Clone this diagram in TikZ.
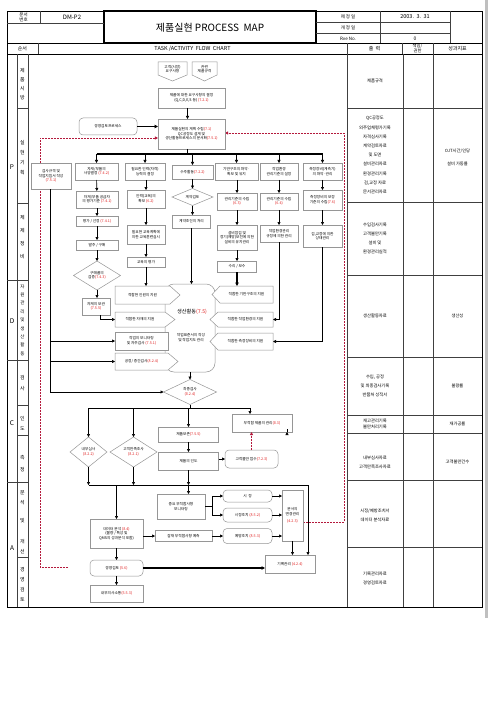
\documentclass[tikz,border=0pt]{standalone}
\usepackage{fontspec}
\setmainfont{Noto Sans CJK KR}
\usetikzlibrary{arrows.meta,calc,shapes.geometric}
\definecolor{bxc}{RGB}{150,150,150}
\definecolor{clc}{RGB}{225,35,35}
\definecolor{rdc}{RGB}{180,25,60}
\newcommand{\cl}[1]{\textcolor{clc}{#1}}
\newcommand{\fs}{\fontsize{3.7}{4.5}\selectfont}
\begin{document}
\begin{tikzpicture}[x=1pt,y=-1pt,
  every node/.style={inner sep=0pt,outer sep=0pt,align=center,font=\fs},
  fb/.style={draw=bxc,fill=white,line width=0.5pt},
  rb/.style={fb,rounded corners=4pt},
  dm/.style={diamond,fb},
  ar/.style={-{Triangle[length=3pt,width=3pt]},line width=0.6pt},
  tar/.style={-{Triangle[length=3.5pt,width=3.5pt]},line width=1.3pt},
  bus/.style={line width=1.3pt},
  rda/.style={draw=rdc,dash pattern=on 2pt off 1pt,line width=0.9pt,-{Triangle[length=3.2pt,width=3.2pt]}},
  ln/.style={line width=0.5pt,draw=black!75},
  lbl/.style={font=\fontsize{5}{9}\selectfont},
  outt/.style={font=\fontsize{4.3}{9}\selectfont},
]
\useasboundingbox (0,0) rectangle (488,714);
\fill[white] (0,0) rectangle (488,714);
\fill[black!25] (485,0) rectangle (488,618);
% ---------- frame and header ----------
\draw[line width=0.8pt] (7,11) rectangle (482,607);
\draw[line width=1.2pt] (104,11) rectangle (316,43);
\draw[ln] (7,23) -- (104,23); \draw[ln] (40,11) -- (40,23);
\draw[ln] (316,22) -- (450,22); \draw[ln] (316,33) -- (450,33);
\draw[ln] (380,11) -- (380,43); \draw[ln] (450,11) -- (450,43);
\draw[line width=0.8pt] (7,43) -- (482,43);
\draw[ln] (38,43) -- (38,54); \draw[ln] (347,43) -- (347,54);
\draw[ln] (402,43) -- (402,54); \draw[ln] (433,43) -- (433,54);
\draw[line width=0.8pt] (7,54) -- (482,54);
\node[font=\fontsize{4.5}{5}\selectfont] (hnum) at (23.5,17) {문서\\번호};
\node[font=\fontsize{6}{7}\selectfont] (hdm) at (72,17) {DM-P2};
\node[font=\fontsize{10}{11}\selectfont] (htitle) at (210,27.5) {제품실현 PROCESS\ \ MAP};
\node[font=\fontsize{4.5}{5}\selectfont] (hd1) at (348,16.5) {제\ 정\ 일};
\node[font=\fontsize{4.5}{5}\selectfont] (hd2) at (348,27.5) {개\ 정\ 일};
\node[font=\fontsize{4.5}{5}\selectfont] (hd3) at (348,38.5) {Rve No.};
\node[font=\fontsize{5.5}{6}\selectfont] (hdate) at (415,16.5) {2003.\ \ 3.\ \ 31};
\node[font=\fontsize{5}{6}\selectfont] (hrev) at (415,39) {0};
\node[font=\fontsize{5}{6}\selectfont] (hseq) at (22.5,48.5) {순서};
\node[font=\fontsize{5.5}{6}\selectfont] (htask) at (192.5,48.5) {TASK /ACTIVITY\ \ FLOW\ \ CHART};
\node[font=\fontsize{5}{6}\selectfont] (hout) at (374.5,48.5) {출\ \ 력};
\node[font=\fontsize{4.3}{4.6}\selectfont] (hresp) at (417.5,48.5) {책임/\\권한};
\node[font=\fontsize{5}{6}\selectfont] (hkpi) at (457.5,48.5) {성과지표};
% ---------- body grid ----------
\draw[ln] (17,54) -- (17,607); \draw[ln] (28,54) -- (28,607);
\draw[ln] (347,54) -- (347,607); \draw[ln] (403,54) -- (403,607); \draw[ln] (433,54) -- (433,607);
\foreach \yy in {108,203,405,435,557} \draw[ln] (17,\yy) -- (28,\yy);
\foreach \yy in {280,360,482} \draw[ln] (7,\yy) -- (28,\yy);
\foreach \yy in {108,202,275,357,415,433,480,547} \draw[ln] (347,\yy) -- (482,\yy);
% PDCA
\node[font=\fontsize{6.5}{7}\selectfont] (pP) at (12,167) {P};
\node[font=\fontsize{6.5}{7}\selectfont] (pD) at (12,321) {D};
\node[font=\fontsize{6.5}{7}\selectfont] (pC) at (12,423) {C};
\node[font=\fontsize{6.5}{7}\selectfont] (pA) at (12,548) {A};
\node[lbl] (v1) at (22.5,84) {제\\품\\시\\방};
\node[lbl,font=\fontsize{5}{10}\selectfont] (v2) at (22.5,158) {실\\현\\기\\획};
\node[lbl,font=\fontsize{5}{13}\selectfont] (v3) at (22.5,237) {체\\제\\정\\비};
\node[lbl,font=\fontsize{4.5}{8.4}\selectfont] (v4) at (22.5,320) {자\\원\\관\\리\\및\\생\\산\\활\\동};
\node[lbl,font=\fontsize{5}{11}\selectfont] (v5) at (22.5,383) {검\\사};
\node[lbl,font=\fontsize{5}{10}\selectfont] (v6) at (22.5,423) {인\\도};
\node[lbl,font=\fontsize{5}{12}\selectfont] (v7) at (22.5,464) {측\\정};
\node[lbl,font=\fontsize{5}{10}\selectfont] (v8) at (22.5,498) {분\\석};
\node[lbl] (v9) at (22.5,521) {및};
\node[lbl,font=\fontsize{5}{10}\selectfont] (v10) at (22.5,547) {개\\선};
\node[lbl,font=\fontsize{5}{10}\selectfont] (v11) at (22.5,584) {경\\영\\검\\토};
% outputs
\node[outt] (o1) at (375,81) {제품규격};
\node[outt,font=\fontsize{4.3}{9.2}\selectfont] (o2) at (375,155) {QC공정도\\외주업체평가기록\\자격심사기록\\계약검토자료\\및 도면\\설비관리자료\\환경관리기록\\검,교정 자료\\문서관리자료};
\node[outt] (k2) at (457.5,157) {OJT시간/인당\\[4pt]설비 가동률};
\node[outt] (o3) at (375,238.5) {수입검사기록\\고객불만기록\\설비 및\\환경관리실적};
\node[outt] (o4) at (375,316) {생산활동자료};
\node[outt] (k4) at (457.5,316) {생산성};
\node[outt] (o5) at (375,385.5) {수입, 공정\\및 최종검사기록\\반품처 성적서};
\node[outt] (k5) at (457.5,385.5) {불량률};
\node[outt,font=\fontsize{4.3}{6}\selectfont] (o6) at (375,424) {재고관리기록\\불만처리기록};
\node[outt] (k6) at (457.5,424) {재가공률};
\node[outt] (o7) at (375,462) {내부심사자료\\고객만족조사자료};
\node[outt] (k7) at (457.5,462) {고객불만건수};
\node[outt] (o8) at (375,515) {시정/예방조치서\\데이터 분석자료};
\node[outt] (o9) at (375,578) {기록관리자료\\경영검토자료};
% ---------- red feedback lines (drawn first, boxes cover them) ----------
\coordinate (rl) at (68,567);
\coordinate (rlc) at (40,567);
\coordinate (planWin) at (158,138);
\coordinate (docout) at (303,522);
\coordinate (rrc) at (344,133);
\coordinate (planEin) at (225,133);
\draw[rda] (rl) -- (rlc) |- (planWin);
\draw[rda] (docout) -| (rrc) -- (planEin);
% ---------- flow: top ----------
\draw[fb] (158,62) -- (187,62) -- (187,75) -- (172.5,81) -- (158,75) -- cycle;
\node (cust) at (172.5,69) {고객(시장)\\요구사항};
\draw[fb] (192,62) -- (217,62) -- (217,75) -- (204.5,81) -- (192,75) -- cycle;
\node (spec) at (204.5,69) {관련\\제품규격};
\node[fb,minimum width=67,minimum height=20] (req) at (191.5,98) {제품에 대한 요구사항의 결정\\(Q,C,D,E,S 등) \cl{(7.2.1)}};
\node[fb,minimum width=67,minimum height=30] (plan) at (191.5,134) {제품실현의 계획 수립\cl{(7.1)}\\QC공정도 설계 및\\생산활동프로세스의 문서화\cl{(7.5.1)}};
\node[rb,minimum width=58,minimum height=17] (mgmt) at (108,126.5) {경영검토프로세스};
\draw[ar] ($(req.south)+(-4,0)$) -- ($(plan.north)+(-4,0)$);
\draw[tar] (mgmt.east) -- (mgmt.east -| plan.west);
\coordinate (bustop) at (0,154);
\draw[bus] ($(plan.south)+(-4,0)$) -- ($(plan.south)+(-4,5)$);
\draw[bus] (96.5,154) -- (322.5,154);
% row 1
\node[fb,minimum width=40,minimum height=26] (lsp) at (51,176) {검사규격 및\\작업지침서 작성\\\cl{(7.5.1)}};
\node[fb,minimum width=43,minimum height=17] (r1a) at (96.5,171.5) {자재/부품의\\사양결정 \cl{(7.4.2)}};
\node[fb,minimum width=40,minimum height=17] (r1b) at (145,171.5) {필요한 인력(자격)\\능력의 결정};
\node[fb,minimum width=41,minimum height=14] (r1c) at (192.5,172) {수주활동\cl{(7.2.2)}};
\node[fb,minimum width=43,minimum height=17] (r1d) at (236.5,171.5) {기반구조의 파악·\\확보 및 유지};
\node[fb,minimum width=38,minimum height=17] (r1e) at (279,171.5) {작업환경\\관리기준의 설정};
\node[fb,minimum width=39,minimum height=17] (r1f) at (322.5,171.5) {측정장비(계측기)\\의 파악·관리};
\foreach \n in {r1a,r1b,r1c,r1d,r1e,r1f} \draw[ar] (\n.north |- bustop) -- (\n.north);
% column a
\node[fb,minimum width=42,minimum height=17] (c1b) at (97,199.5) {자재/부품 공급자\\의 평가기준 \cl{(7.4.1)}};
\node[fb,minimum width=42,minimum height=10] (c1c) at (97,221) {평가 / 선정 \cl{(7.4.1)}};
\node[fb,minimum width=42,minimum height=10] (c1d) at (97,245) {발주 / 구매};
\node[dm,minimum width=47,minimum height=29] (c1e) at (97,275.5) {};
\node (c1et) at (97,275.5) {구매품의\\검증\cl{(7.4.3)}};
\node[fb,minimum width=28,minimum height=17] (c1f) at (96,306.5) {자재의 보관\\\cl{(7.5.5)}};
\draw[ar] (r1a) -- (c1b); \draw[ar] (c1b) -- (c1c); \draw[ar] (c1c) -- (c1d);
\draw[ar] (c1d.south) -- (c1e.north); \draw[ar] (c1e.south) -- (c1e.south |- c1f.north);
% column b
\node[fb,minimum width=38,minimum height=18] (c2b) at (146,199) {인력(교육)의\\확보 \cl{(6.2)}};
\node[fb,minimum width=38,minimum height=19] (c2c) at (146,234.5) {필요한 교육계획에\\의한 교육훈련실시};
\node[fb,minimum width=38,minimum height=10] (c2d) at (146,262) {교육의 평가};
\draw[ar] (r1b.south -| c2b) -- (c2b.north); \draw[ar] (c2b) -- (c2c); \draw[ar] (c2c) -- (c2d);
% column c
\node[dm,minimum width=41,minimum height=17] (c3b) at (192.5,197) {};
\node (c3bt) at (192.5,197) {계약검토};
\node[fb,minimum width=38,minimum height=13] (c3c) at (191.5,221.5) {계약조건의 처리};
\draw[ar] (r1c.south) -- (c3b.north); \draw[ar] (c3b.south) -- (c3b.south |- c3c.north);
% column d
\node[fb,minimum width=40,minimum height=17] (c4b) at (237,201.5) {관리기준의 수립\\\cl{(6.3)}};
\node[fb,minimum width=40,minimum height=25] (c4c) at (237,237.5) {설비점검 및\\정기(예방)보전에 의한\\설비의 유지관리};
\node[fb,minimum width=39,minimum height=11] (c4d) at (237,266.5) {수리 / 보수};
\draw[ar] (r1d.south -| c4b) -- (c4b.north); \draw[ar] (c4b) -- (c4c); \draw[ar] (c4c) -- (c4d);
% column e
\node[fb,minimum width=38,minimum height=17] (c5b) at (279,201.5) {관리기준의 수립\\\cl{(6.4)}};
\node[fb,minimum width=38,minimum height=17] (c5c) at (279,233.5) {작업환경관리\\규정에 의한 관리};
\draw[ar] (r1e) -- (c5b); \draw[ar] (c5b) -- (c5c);
% column f
\node[fb,minimum width=39,minimum height=20] (c6b) at (322.5,200) {측정장비의 보정\\기준의 수립\cl{(7.6)}};
\node[fb,minimum width=39,minimum height=22] (c6c) at (322.5,236) {검,교정에 의한\\상태관리};
\draw[ar] (r1f) -- (c6b); \draw[ar] (c6b) -- (c6c);
% ---------- production ----------
\node[rb,rounded corners=9pt,minimum width=50,minimum height=88] (prod) at (190,328) {};
\node[font=\fontsize{5.2}{6}\selectfont] (prodt) at (192,312) {생산활동\cl{(7.5)}};
\node (prods) at (191,337.5) {작업표준서의 작성\\및 작업지도 관리};
% left flags
\node[minimum width=55,minimum height=18] (L1) at (142.5,295) {};
\draw[fb] (L1.north west) -- (L1.north east) -- ($(L1.east)+(10,0)$) -- (L1.south east) -- (L1.south west) -- cycle;
\node (L1t) at (L1) {적합한 인원의 지원};
\node[minimum width=50,minimum height=15] (L2) at (140,319.5) {};
\draw[fb] (L2.north west) -- (L2.north east) -- ($(L2.east)+(10,0)$) -- (L2.south east) -- (L2.south west) -- cycle;
\node (L2t) at (L2) {적합한 자재의 지원};
\node[fb,minimum width=53,minimum height=18] (L3) at (141.5,341) {작업의 모니터링\\및 자주검사 \cl{(7.5.1)}};
\node[minimum width=53,minimum height=17] (L4) at (141.5,361.5) {};
\draw[fb] (L4.north west) -- (L4.north east) -- ($(L4.east)+(10,0)$) -- (L4.south east) -- (L4.south west) -- cycle;
\node (L4t) at (L4) {공정/ 중간검사\cl{(8.2.4)}};
% right flags
\node[minimum width=53,minimum height=17] (R1) at (246.5,294.5) {};
\draw[fb] (R1.north east) -- (R1.north west) -- ($(R1.west)+(-8,0)$) -- (R1.south west) -- (R1.south east) -- cycle;
\node (R1t) at (R1) {적합한 기반구조의 지원};
\node[minimum width=55,minimum height=15] (R2) at (245.5,319.5) {};
\draw[fb] (R2.north east) -- (R2.north west) -- ($(R2.west)+(-8,0)$) -- (R2.south west) -- (R2.south east) -- cycle;
\node (R2t) at (R2) {적합한 작업환경의 지원};
\node[minimum width=55,minimum height=17] (R3) at (245.5,341.5) {};
\draw[fb] (R3.north east) -- (R3.north west) -- ($(R3.west)+(-8,0)$) -- (R3.south west) -- (R3.south east) -- cycle;
\node (R3t) at (R3) {적합한 측정장비의 지원};
% connections into production
\draw[ar] (c2d.south) -- (c2d.south |- L1.north);
\draw[ar] (c3c.south) -- (c3c.south |- prod.north);
\draw[tar] (c4d.south) -- (c4d.south |- R1.north);
\draw[ar] ($(c1f.south)+(4,0)$) |- (L2.west);
\draw[ar] (c5c.south) |- (R2.east);
\draw[ar] (c6c.south) |- (R3.east);
\coordinate (lv) at (50,392);
\draw[line width=0.6pt] (lsp.south -| lv) -- (lv);
\draw[ar] (L3.west -| lv) -- (L3.west);
\draw[ar] (L4.west -| lv) -- (L4.west);
% ---------- inspection ----------
\node[dm,minimum width=53,minimum height=25] (fin) at (190,392) {};
\node (fint) at (190,392) {최종검사\\\cl{(8.2.4)}};
\draw[ar] (lv) -- (fin.west);
\draw[ar] (prod.south) -- (fin.north);
\coordinate (b2l) at (88.5,408);
\coordinate (b2r) at (250,408);
\draw[line width=0.6pt] (fin.south) -- (fin.south |- b2l);
\draw[line width=0.6pt] (b2l) -- (b2r);
\node[dm,minimum width=37,minimum height=30] (d1) at (88.5,452) {};
\node (d1t) at (88.5,452) {내부심사\\\cl{(8.2.2)}};
\node[dm,minimum width=47,minimum height=30] (d2) at (133.5,452) {};
\node (d2t) at (133.5,452) {고객만족조사\\\cl{(8.2.1)}};
\node[fb,minimum width=60,minimum height=15] (pres) at (188.5,434.5) {제품보존\cl{(7.5.5)}};
\node[fb,minimum width=60,minimum height=18] (deliv) at (188.5,461) {제품의 인도};
\node[fb,minimum width=60,minimum height=18] (nc) at (262,423) {부적합 제품의 관리\cl{(8.3)}};
\node[rb,minimum width=53,minimum height=18] (comp) at (251.5,459) {고객불만 접수\cl{(7.2.3)}};
\draw[ar] (b2l) -- (d1.north);
\draw[ar] (d2.north |- b2l) -- (d2.north);
\draw[ar] (pres.north |- b2l) -- (pres.north);
\draw[ar] (b2r) -- (b2r |- nc.north);
\draw[ar] (pres) -- (deliv);
\draw[ar] (comp.west -| deliv.east) -- (comp.west);
\draw[rda] (comp.north) -- (comp.north |- nc.south);
% collector
\coordinate (cL) at (88.5,485);
\coordinate (cR) at (308,485);
\draw[ar] (d1.south) -- (cL);
\draw[ar] (d2.south) -- (d2.south |- cL);
\draw[ar] (deliv.south) -- (deliv.south |- cL);
\draw[ar] ($(nc.south east)+(-5,0)$) -- ($(nc.south east)+(-5,0)$ |- cL);
% ---------- analysis ----------
\node[fb,minimum width=53,minimum height=29] (da) at (116.5,533.5) {데이터 분석 \cl{(8.4)}\\(불량 / 특성 및\\QMS의 성과분석 포함)};
\node[fb,minimum width=48,minimum height=25] (mon) at (181,506.5) {중요 부적합사항\\모니터링};
\node[rb,minimum width=49,minimum height=12] (corr) at (247.5,496) {시\ \ 정};
\node[rb,minimum width=49,minimum height=14] (ca) at (247.5,515) {시정조치 \cl{(8.5.2)}};
\node[fb,minimum width=21,minimum height=51] (doc) at (292.5,515.5) {문서의\\변경관리\\[3pt]\cl{(4.2.3)}};
\node[fb,minimum width=57,minimum height=11] (pot) at (183.5,536) {잠재 부적합사항 예측};
\node[rb,minimum width=49,minimum height=15] (pa) at (247.5,536) {예방조치 \cl{(8.5.3)}};
\node[fb,minimum width=50,minimum height=18] (rec) at (290,564) {기록관리 \cl{(4.2.4)}};
\node[rb,minimum width=53,minimum height=16] (mr) at (116.5,568) {경영검토 \cl{(5.6)}};
\node[fb,minimum width=53,minimum height=17] (ic) at (116.5,593.5) {내부의사소통\cl{(5.5.3)}};
\draw[ar] (cL) -- (cR) -- (cR |- rec.north);
\draw[ar] (da.north |- cL) -- (da.north);
\draw[ar] (deliv.south |- cL) -- (deliv.south |- mon.north);
\coordinate (mj) at (212,506.5);
\draw[line width=0.6pt] (mon.east) -- (mj);
\draw[line width=0.6pt] (mj |- corr.west) -- (mj |- ca.west);
\draw[ar] (mj |- corr.west) -- (corr.west);
\draw[ar] (mj |- ca.west) -- (ca.west);
\draw[ar] (corr.east) -- (corr.east -| doc.west);
\draw[ar] (ca.east) -- (ca.east -| doc.west);
\draw[ar] (pot.west -| da.east) -- (pot.west);
\draw[ar] (pot.east) -- (pa.west);
\draw[ar] (pa.east) -- (pa.east -| doc.west);
\draw[ar] (doc.south) -- (doc.south |- rec.north);
\draw[ar] (da.south) -- (mr.north);
\draw[tar] (mr.east) -- (mr.east -| rec.west);
\draw[ar] (mr.south) -- (ic.north);
\end{tikzpicture}
\end{document}
